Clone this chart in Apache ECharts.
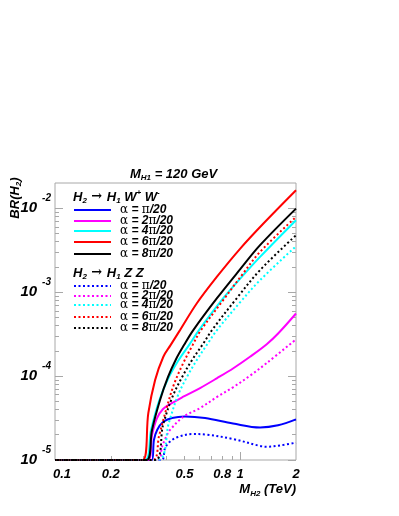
<!DOCTYPE html>
<html>
<head>
<meta charset="utf-8">
<script src="https://cdn.jsdelivr.net/npm/echarts@6/dist/echarts.min.js"></script>
<style>
  html, body { margin: 0; padding: 0; background: #fff; }
  #chart { width: 399px; height: 516px; }
</style>
</head>
<body>
<div id="chart"></div>
<script>
// M_H2 in TeV, BR(H2)
const mWW1 = [0.1, 0.333, 0.342, 0.356, 0.383, 0.428, 0.503, 0.646, 0.914, 1.279, 1.600, 2.0]
const brWW1 = [1e-5, 1e-5, 1.73e-5, 2.28e-5, 2.83e-5, 3.16e-5, 3.30e-5, 3.16e-5, 2.72e-5, 2.44e-5, 2.59e-5, 3.05e-5]

const mWW2 = [0.1, 0.318, 0.334, 0.3555, 0.383, 0.418, 0.493, 0.607, 0.747, 0.918, 1.129, 1.390, 1.606, 2.0]
const brWW2 = [1e-5, 1e-5, 1.99e-5, 3.16e-5, 4.05e-5, 4.64e-5, 5.68e-5, 7.2e-5, 9.4e-5, 1.24e-4, 1.70e-4, 2.40e-4, 3.24e-4, 5.57e-4]

const mWW4 = [0.1, 0.306, 0.330, 0.3645, 0.407, 0.4615, 0.529, 0.599, 0.808, 1.0, 1.279, 2.0]
const brWW4 = [1e-5, 1e-5, 2.28e-5, 5.04e-5, 9.2e-5, 1.51e-4, 2.34e-4, 3.53e-4, 8.41e-4, 1.45e-3, 2.63e-3, 7.2e-3]

const mWW6 = [0.1, 0.2976, 0.319, 0.347, 0.3845, 0.4206, 0.473, 0.582, 0.747, 1.0, 1.334, 2.0]
const brWW6 = [1e-5, 1e-5, 3.63e-5, 8.95e-5, 1.70e-4, 2.34e-4, 3.53e-4, 7.33e-4, 1.52e-3, 3.31e-3, 6.58e-3, 1.64e-2]

const mWW8 = [0.1, 0.312, 0.334, 0.369, 0.407, 0.450, 0.497, 0.558, 0.747, 1.0, 1.279, 2.0]
const brWW8 = [1e-5, 1e-5, 2.28e-5, 5.18e-5, 9.7e-5, 1.59e-4, 2.34e-4, 3.53e-4, 8.41e-4, 1.88e-3, 3.63e-3, 9.9e-3]

const mZZ1 = [0.1, 0.374, 0.393, 0.418, 0.462, 0.549, 0.654, 0.914, 1.279, 1.39, 1.640, 2.0]
const brZZ1 = [1e-5, 1e-5, 1.39e-5, 1.66e-5, 1.88e-5, 2.04e-5, 2.01e-5, 1.78e-5, 1.47e-5, 1.44e-5, 1.49e-5, 1.61e-5]

const mZZ2 = [0.1, 0.361, 0.378, 0.3976, 0.418, 0.493, 0.607, 0.747, 0.918, 1.129, 1.390, 2.0]
const brZZ2 = [1e-5, 1e-5, 1.43e-5, 1.88e-5, 2.28e-5, 3.27e-5, 4.16e-5, 5.62e-5, 7.4e-5, 1.01e-4, 1.43e-4, 2.74e-4]

const mZZ4 = [0.1, 0.3555, 0.4127, 0.4615, 0.5225, 0.5918, 0.670, 0.749, 1.0, 1.279, 2.0]
const brZZ4 = [1e-5, 1e-5, 2.83e-5, 5.94e-5, 1.03e-4, 1.64e-4, 2.47e-4, 3.53e-4, 7.6e-4, 1.39e-3, 3.53e-3]

const mZZ6 = [0.1, 0.337, 0.3645, 0.3976, 0.439, 0.491, 0.553, 0.614, 0.828, 1.023, 1.279, 2.0]
const brZZ6 = [1e-5, 1e-5, 1.93e-5, 3.94e-5, 8.0e-5, 1.41e-4, 2.34e-4, 3.53e-4, 8.61e-4, 1.61e-3, 3.02e-3, 7.88e-3]

const mZZ8 = [0.1, 0.347, 0.383, 0.428, 0.485, 0.549, 0.632, 0.704, 0.949, 1.279, 2.0]
const brZZ8 = [1e-5, 1e-5, 2.61e-5, 5.47e-5, 9.7e-5, 1.55e-4, 2.45e-4, 3.53e-4, 8.26e-4, 1.83e-3, 4.77e-3]

// axes
const xRange = [0.1, 2]
const yRange = [1e-5, 0.02]
const xLabelValues = [0.1, 0.2, 0.5, 0.8, 1, 2]
const xMajorTicks = [1]
const xMinorTicks = [0.2, 0.3, 0.4, 0.5, 0.6, 0.7, 0.8, 0.9]
const yDecades = [-5, -4, -3, -2]
const yMinorTicks = [2e-5, 3e-5, 4e-5, 5e-5, 6e-5, 7e-5, 8e-5, 9e-5,
  2e-4, 3e-4, 4e-4, 5e-4, 6e-4, 7e-4, 8e-4, 9e-4,
  2e-3, 3e-3, 4e-3, 5e-3, 6e-3, 7e-3, 8e-3, 9e-3]

const curves = [
  { key: 'WW1', m: mWW1, br: brWW1, color: '#0000ff', dotted: false, coef: '' },
  { key: 'WW2', m: mWW2, br: brWW2, color: '#ff00ff', dotted: false, coef: '2' },
  { key: 'WW4', m: mWW4, br: brWW4, color: '#00ffff', dotted: false, coef: '4' },
  { key: 'WW6', m: mWW6, br: brWW6, color: '#ff0000', dotted: false, coef: '6' },
  { key: 'WW8', m: mWW8, br: brWW8, color: '#000000', dotted: false, coef: '8' },
  { key: 'ZZ1', m: mZZ1, br: brZZ1, color: '#0000ff', dotted: true, coef: '' },
  { key: 'ZZ2', m: mZZ2, br: brZZ2, color: '#ff00ff', dotted: true, coef: '2' },
  { key: 'ZZ4', m: mZZ4, br: brZZ4, color: '#00ffff', dotted: true, coef: '4' },
  { key: 'ZZ6', m: mZZ6, br: brZZ6, color: '#ff0000', dotted: true, coef: '6' },
  { key: 'ZZ8', m: mZZ8, br: brZZ8, color: '#000000', dotted: true, coef: '8' },
]
// legend row centres (px)
const legendRows = [210, 221, 231, 242, 254, 286, 296, 305, 317, 328]

const FONT = '"Liberation Sans", Arial, sans-serif'
const SYM = '"DejaVu Serif", "Liberation Serif", serif'
const bi = (size) => ({ fontFamily: FONT, fontSize: size, fontWeight: 'bold', fontStyle: 'italic', color: '#000' })
const lg = Math.log10
const frameGray = '#a8a8a8'

const chart = echarts.init(document.getElementById('chart'), null, { renderer: 'canvas' })

const xBase = {
  type: 'value', min: lg(xRange[0]), max: lg(xRange[1]), position: 'bottom',
  axisLine: { show: false, onZero: false }, splitLine: { show: false },
}
const yBase = {
  type: 'value', min: lg(yRange[0]), max: lg(yRange[1]),
  axisLine: { show: false, onZero: false }, splitLine: { show: false },
}
const tick = (len, vals) => ({ show: true, inside: true, length: len, customValues: vals, lineStyle: { color: frameGray, width: 1 } })

const legendRich = {
  t: bi(12),
  g: { fontFamily: SYM, fontSize: 12, color: '#000' },
}
const sub = () => Object.assign(bi(8), { padding: [8, 0, 0, 0] })
const sup = () => Object.assign(bi(8), { padding: [0, 0, 8, 0] })
const arrow = { fontFamily: SYM, fontSize: 13, color: '#000' }

const option = {
  animation: false,
  backgroundColor: '#fff',
  grid: { left: 55, right: 103, top: 183, bottom: 56, show: true, borderColor: frameGray, borderWidth: 1 },
  title: [
    {
      text: '{m|M}{s|H1}{m| = 120 GeV}', left: 130, top: 166, padding: 0,
      textStyle: { rich: { m: bi(13), s: sub() } },
    },
    {
      text: '{t|H}{s|2}{a| → }{t|H}{s|1}{t| W}{p|+}{t| W}{p|-}', left: 73, top: 189, padding: 0,
      textStyle: { rich: { t: bi(13), s: sub(), a: arrow, p: sup() } },
    },
    {
      text: '{t|H}{s|2}{a| → }{t|H}{s|1}{t| Z Z}', left: 73, top: 265, padding: 0,
      textStyle: { rich: { t: bi(13), s: sub(), a: arrow } },
    },
  ],
  legend: curves.map((c, i) => ({
    data: [c.key], left: 73, top: legendRows[i] - 6, padding: 0,
    itemWidth: 37, itemHeight: 12, selectedMode: false,
    itemStyle: { opacity: 0, borderWidth: 0 },
    formatter: () => `{g|α}{t| = ${c.coef}}{g|π}{t|/20}`,
    textStyle: { padding: [0, 0, 0, 4], rich: legendRich },
  })),
  graphic: [
    {
      type: 'text', right: 103, top: 483,
      style: { text: '{t|M}{s|H2}{t| (TeV)}', rich: { t: bi(13), s: sub() } },
    },
    {
      type: 'text', x: 15, y: 198, rotation: Math.PI / 2,
      style: { text: '{t|BR(H}{s|2}{t|)}', align: 'center', verticalAlign: 'middle', rich: { t: bi(13), s: sub() } },
    },
  ],
  xAxis: [
    Object.assign({}, xBase, {
      axisTick: tick(8, xMajorTicks.map(lg)),
      axisLabel: {
        customValues: xLabelValues.map(lg), margin: 8,
        formatter: (v) => {
          const s = String(Number(Math.pow(10, v).toPrecision(2)))
          return s === '0.1' ? `{f|${s}}` : `{n|${s}}`
        },
        rich: { n: bi(13), f: Object.assign(bi(13), { padding: [0, 0, 0, 14] }) },
      },
    }),
    Object.assign({}, xBase, { axisTick: tick(4, xMinorTicks.map(lg)), axisLabel: { show: false } }),
  ],
  yAxis: [
    Object.assign({}, yBase, {
      position: 'left',
      axisTick: tick(8, yDecades),
      axisLabel: {
        customValues: yDecades, margin: 4,
        formatter: (v) => `{b|10}{e|${Math.round(v)}}`,
        rich: {
          b: Object.assign(bi(15), { padding: [0, 5, 0, 0] }),
          e: Object.assign(bi(10), { padding: [0, 0, 20, 0] }),
        },
      },
    }),
    Object.assign({}, yBase, { position: 'left', axisTick: tick(4, yMinorTicks.map(lg)), axisLabel: { show: false } }),
    Object.assign({}, yBase, { position: 'right', axisTick: tick(8, yDecades), axisLabel: { show: false } }),
    Object.assign({}, yBase, { position: 'right', axisTick: tick(4, yMinorTicks.map(lg)), axisLabel: { show: false } }),
  ],
  series: curves.map((c) => ({
    name: c.key,
    type: 'line',
    xAxisIndex: 0,
    yAxisIndex: 0,
    symbol: 'none',
    smooth: 0.35,
    clip: true,
    data: c.m.map((m, i) => [lg(m), lg(c.br[i])]),
    lineStyle: { color: c.color, width: 2, type: c.dotted ? [2, 2.5] : 'solid' },
    itemStyle: { color: c.color },
  })),
}

chart.setOption(option)
</script>
</body>
</html>
